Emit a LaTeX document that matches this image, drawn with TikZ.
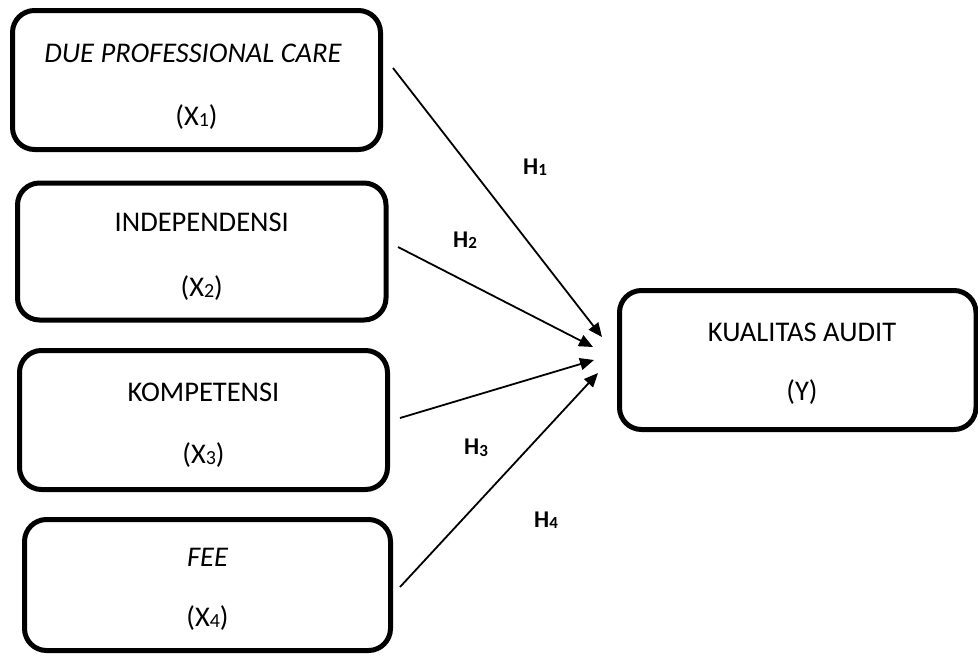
\documentclass[tikz,border=0pt]{standalone}
\usepackage{fontspec}
\setmainfont{Carlito}
\usetikzlibrary{arrows.meta}
\newcommand{\sbs}[1]{\raisebox{-1.5pt}{\fontsize{20}{20}\selectfont #1}}
\newcommand{\hsbs}[1]{\raisebox{-1.5pt}{\fontsize{17}{17}\selectfont #1}}
\begin{document}
\begin{tikzpicture}[x=1pt,y=-1pt,
  box/.style={draw, line width=5pt, rounded corners=22pt, inner sep=0pt},
  lbl/.style={font=\fontsize{28.5}{32}\selectfont, inner sep=0pt, anchor=center},
  hlbl/.style={font=\bfseries\fontsize{24}{26}\selectfont, inner sep=0pt, anchor=center},
  arr/.style={-{Triangle[length=14pt,width=12pt]}, line width=1.8pt}]
\useasboundingbox (0,0) rectangle (978,657);
% boxes
\node[box, minimum width=368pt, minimum height=139pt] (b1) at (196.5,80) {};
\node[box, minimum width=368.5pt, minimum height=137pt] (b2) at (201.75,251.5) {};
\node[box, minimum width=368pt, minimum height=139pt] (b3) at (203.5,420) {};
\node[box, minimum width=366pt, minimum height=131pt] (b4) at (207.5,585) {};
\node[box, minimum width=356.5pt, minimum height=139pt] (y) at (797.75,360) {};
% texts
\node[lbl] (t1) at (193,53) {\itshape DUE PROFESSIONAL CARE};
\node[lbl] (x1) at (196.5,117) {(X\sbs{1})};
\node[lbl] (t2) at (201.75,222) {INDEPENDENSI};
\node[lbl] (x2) at (201.75,288) {(X\sbs{2})};
\node[lbl] (t3) at (203.5,392) {KOMPETENSI};
\node[lbl] (x3) at (203.5,455) {(X\sbs{3})};
\node[lbl] (t4) at (207.5,557) {\itshape FEE};
\node[lbl] (x4) at (207.5,618) {(X\sbs{4})};
\node[lbl] (ty) at (802,332) {KUALITAS AUDIT};
\node[lbl] (xy) at (802,392) {(Y)};
% connector ends
\coordinate (s1) at (393,68);
\coordinate (e1) at (602,337);
\coordinate (s2) at (398,247);
\coordinate (e2) at (593,347);
\coordinate (s3) at (400,418);
\coordinate (e3) at (594,360);
\coordinate (s4) at (400,587);
\coordinate (e4) at (598,373);
\draw[arr] (s1) -- (e1);
\draw[arr] (s2) -- (e2);
\draw[arr] (s3) -- (e3);
\draw[arr] (s4) -- (e4);
% hypothesis labels
\node[hlbl] (h1) at (535,167) {H\hsbs{1}};
\node[hlbl] (h2) at (465,240) {H\hsbs{2}};
\node[hlbl] (h3) at (476,448) {H\hsbs{3}};
\node[hlbl] (h4) at (546,520) {H\hsbs{4}};
\end{tikzpicture}
\end{document}
